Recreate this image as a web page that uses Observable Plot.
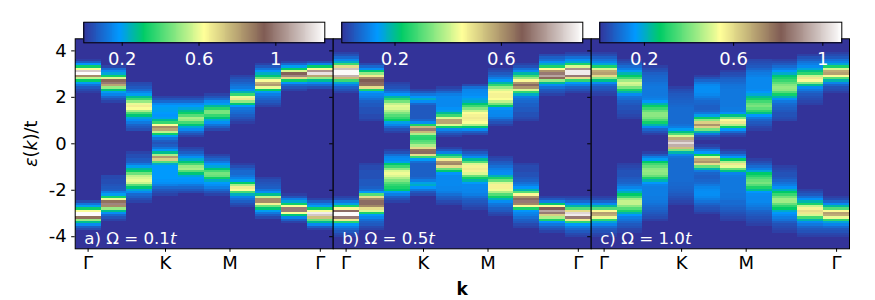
<!DOCTYPE html>
<html>
<head>
<meta charset="utf-8">
<script src="https://cdn.jsdelivr.net/npm/d3@7"></script>
<script src="https://cdn.jsdelivr.net/npm/@observablehq/plot@0.6"></script>
<style>
html,body{margin:0;padding:0;background:#fff}
#chart{position:relative;width:875px;height:300px;overflow:hidden}
#chart svg{position:absolute;left:0;top:0}
</style>
</head>
<body>
<div id="chart"></div>
<script>
// Each column: list of [top energy, intensities going down in steps of 0.1]
const panelA = [
 [[3.6,[.02,.08,.18,.33,.62,1.15,1.25,.85,.55,.32,.2,.12,.07,.04,.02]],[-2.5,[.04,.12,.2,.33,.62,1.25,1.25,.9,.5,.28,.16,.08,.04]]],
 [[3.3,[.03,.1,.16,.22,.33,.58,.92,1.0,.8,.5,.3,.2,.15,.1,.06,.03]],[-1.4,[.04,.04,.05,.05,.06,.07,.08,.14,.2,.34,.6,.9,1.02,.85,.5,.28,.17,.1,.06,.03]]],
 [[2.6,[.04,.05,.07,.1,.15,.2,.28,.38,.5,.6,.66,.62,.52,.4,.3,.22,.17,.13,.09,.07,.05]],[-.4,[.03,.05,.05,.07,.08,.13,.2,.27,.33,.45,.55,.58,.6,.56,.42,.3,.22,.16,.1,.08,.05,.03]]],
 [[2.0,[.03,.06,.1,.16,.19,.2,.2,.19,.18,.2,.28,.38,.62,.85,.8,.55,.33,.2,.12,.08,.06,.08,.12,.18,.28,.52,.82,.72,.42,.23,.19,.19,.19,.19,.19,.19,.18,.17,.14,.1,.07,.05,.03]]],
 [[2.0,[.03,.06,.1,.16,.19,.22,.28,.33,.42,.52,.5,.4,.3,.22,.16,.1,.06,.03]],[-.2,[.03,.05,.08,.12,.17,.23,.3,.4,.5,.52,.42,.3,.22,.19,.18,.17,.13,.1,.07,.04]]],
 [[2.1,[.03,.06,.1,.16,.2,.27,.36,.46,.46,.38,.3,.22,.17,.12,.08,.04]],[-.5,[.03,.06,.09,.13,.18,.22,.3,.4,.46,.44,.33,.24,.19,.17,.14,.1,.06,.03]]],
 [[2.9,[.03,.05,.07,.09,.11,.13,.17,.25,.38,.6,.67,.5,.3,.19,.13,.11,.1,.08,.06,.04,.02]],[-.9,[.02,.05,.08,.1,.1,.12,.15,.2,.32,.52,.66,.62,.4,.24,.15,.11,.08,.05,.03]]],
 [[3.4,[.03,.07,.12,.18,.24,.3,.45,.62,.78,.82,.6,.32,.2,.14,.11,.09,.07,.05,.03]],[-1.5,[.03,.05,.06,.07,.08,.12,.17,.28,.55,.85,.85,.65,.45,.3,.2,.13,.08,.04]]],
 [[3.5,[.03,.1,.2,.32,.58,.95,1.02,.7,.33,.18,.1,.06,.03]],[-2.2,[.02,.06,.14,.22,.33,.62,1.0,1.0,.62,.3,.15,.08,.03]]],
 [[3.5,[.05,.15,.32,.62,1.05,1.2,.8,.5,.28,.16,.1,.05]],[-2.4,[.03,.08,.14,.2,.33,.62,1.22,1.15,.75,.45,.28,.16,.08,.03]]]
];
const panelB = [
 [[3.9,[.02,.04,.07,.11,.17,.28,.5,.82,.9,.9,.8,.55,.28,.16,.1,.06,.04,.02]],[-2.3,[.02,.04,.09,.15,.25,.46,.7,.9,.9,.72,.48,.26,.14,.1,.07,.05,.03,.02]]],
 [[3.4,[.03,.07,.12,.22,.36,.48,.62,.68,.7,.65,.5,.25,.14,.11,.1,.08,.06,.05,.05,.04,.04,.04,.03,.03,.02]],[-.9,[.02,.03,.03,.04,.04,.04,.04,.05,.05,.05,.06,.08,.14,.3,.5,.62,.7,.7,.62,.5,.42,.25,.14,.11,.08,.06,.05,.03,.02]]],
 [[2.6,[.02,.03,.04,.06,.09,.13,.19,.26,.33,.4,.43,.42,.38,.34,.3,.27,.23,.15,.11,.07,.04,.02]],[-.3,[.02,.04,.08,.11,.12,.15,.22,.28,.35,.42,.44,.42,.38,.34,.3,.27,.25,.22,.14,.1,.06,.04,.02]]],
 [[2.3,[.02,.05,.09,.13,.17,.12,.07,.05,.05,.05,.05,.05,.05,.07,.12,.25,.55,.72,.55,.38,.27,.26,.3,.32,.38,.5,.65,.7,.5,.28,.14,.08,.06,.06,.06,.06,.06,.06,.07,.1,.15,.17,.13,.09,.05,.03]]],
 [[2.4,[.02,.04,.07,.1,.115,.115,.115,.115,.115,.125,.15,.2,.28,.42,.58,.58,.42,.24,.11,.07,.04,.02]],[-.2,[.02,.05,.1,.2,.3,.48,.6,.62,.5,.32,.22,.13,.115,.115,.115,.115,.115,.11,.11,.1,.08,.06,.05,.03,.02]]],
 [[2.5,[.03,.08,.11,.115,.12,.13,.15,.17,.22,.28,.34,.4,.45,.47,.48,.47,.45,.38,.22,.12,.06,.03]],[-.3,[.02,.05,.08,.12,.2,.3,.42,.47,.48,.47,.42,.32,.24,.19,.14,.115,.115,.11,.11,.1,.08,.06,.05,.04,.03,.02]]],
 [[3.2,[.02,.03,.05,.07,.1,.13,.19,.27,.36,.42,.46,.47,.47,.45,.4,.33,.22,.13,.115,.115,.11,.09,.06,.04,.02]],[-.6,[.02,.03,.05,.06,.08,.1,.115,.12,.18,.25,.32,.42,.47,.47,.44,.38,.3,.24,.18,.12,.09,.08,.06,.05,.03,.02]]],
 [[3.4,[.02,.04,.08,.12,.19,.28,.36,.46,.6,.7,.6,.42,.27,.17,.1,.08,.07,.06,.06,.05,.05,.04,.04,.03,.02]],[-.9,[.02,.03,.03,.03,.04,.04,.05,.06,.08,.1,.13,.18,.3,.46,.6,.7,.72,.62,.46,.25,.13,.11,.1,.08,.06,.05,.03,.02]]],
 [[3.8,[.03,.06,.08,.12,.17,.25,.45,.6,.72,.78,.66,.36,.2,.12,.08,.05,.04,.02]],[-2.3,[.02,.05,.1,.22,.46,.68,.78,.72,.52,.38,.25,.13,.09,.06,.04,.02]]],
 [[3.9,[.02,.04,.08,.12,.16,.25,.42,.75,.88,.88,.72,.5,.27,.14,.1,.06,.04,.02]],[-2.3,[.02,.04,.07,.12,.19,.3,.5,.85,.88,.72,.48,.27,.14,.1,.07,.05,.03,.02]]]
];
const panelC = [
 [[3.9,[.02,.04,.07,.1,.13,.19,.3,.5,.68,.7,.6,.42,.25,.14,.09,.06,.05,.03,.02]],[-2.3,[.02,.04,.08,.14,.23,.36,.55,.7,.68,.52,.32,.19,.13,.09,.06,.05,.03,.02]]],
 [[3.6,[.02,.04,.06,.09,.12,.17,.22,.27,.34,.44,.5,.48,.4,.3,.22,.14,.1,.09,.07,.06,.05,.05,.04,.04,.03,.02]],[-.9,[.02,.03,.04,.05,.05,.05,.06,.07,.08,.1,.13,.17,.21,.27,.34,.44,.48,.48,.42,.36,.3,.22,.16,.12,.1,.08,.06,.05,.03,.02]]],
 [[3.3,[.02,.04,.05,.07,.08,.085,.09,.1,.105,.11,.11,.11,.11,.115,.125,.16,.22,.28,.33,.38,.42,.42,.4,.35,.29,.22,.14,.08,.05,.02]],[-.4,[.02,.06,.12,.17,.27,.34,.38,.42,.43,.42,.38,.3,.22,.16,.13,.12,.12,.12,.12,.115,.115,.11,.1,.09,.08,.07,.06,.05,.04,.02]]],
 [[2.4,[.02,.04,.05,.06,.065,.07,.075,.08,.085,.09,.09,.09,.09,.09,.09,.09,.1,.12,.17,.25,.36,.5,.68,.95,1.02,.95,.65,.4,.22,.13,.1,.09,.09,.09,.09,.09,.09,.09,.09,.09,.09,.085,.085,.08,.075,.07,.06,.05,.04,.03,.02]]],
 [[2.9,[.02,.05,.08,.11,.135,.145,.145,.145,.135,.12,.1,.085,.08,.07,.07,.08,.11,.18,.28,.42,.62,.72,.62,.4,.22,.11,.05,.02]],[-.1,[.02,.05,.11,.16,.27,.5,.68,.72,.6,.38,.22,.11,.08,.07,.07,.08,.09,.11,.13,.14,.145,.145,.135,.12,.1,.08,.06,.05,.04,.02]]],
 [[3.1,[.02,.04,.05,.07,.08,.09,.1,.105,.11,.11,.11,.11,.11,.11,.11,.11,.115,.12,.15,.25,.4,.55,.58,.46,.28,.16,.09,.04,.02]],[-.3,[.02,.05,.1,.16,.27,.46,.58,.52,.38,.25,.13,.115,.11,.11,.11,.11,.11,.11,.11,.105,.105,.1,.09,.09,.08,.07,.06,.05,.04,.03,.02]]],
 [[3.6,[.03,.04,.05,.06,.08,.1,.115,.125,.135,.135,.135,.135,.135,.14,.16,.19,.24,.29,.34,.38,.4,.37,.32,.25,.16,.11,.08,.06,.05,.03,.02]],[-.7,[.02,.04,.06,.09,.12,.19,.27,.31,.35,.38,.4,.36,.3,.24,.16,.14,.135,.135,.135,.125,.115,.1,.08,.07,.06,.05,.04,.03,.02]]],
 [[3.6,[.02,.04,.06,.09,.12,.16,.2,.26,.3,.33,.37,.41,.43,.42,.36,.29,.22,.15,.11,.09,.08,.07,.06,.05,.05,.04,.03]],[-1,[.02,.03,.04,.05,.05,.06,.08,.1,.12,.15,.21,.27,.33,.39,.44,.44,.38,.32,.27,.2,.16,.14,.12,.1,.07,.05,.04,.03,.02]]],
 [[3.8,[.02,.05,.07,.1,.12,.14,.19,.25,.32,.48,.58,.55,.42,.24,.14,.11,.08,.06,.05,.04,.03,.02]],[-2,[.02,.04,.06,.1,.15,.22,.3,.48,.56,.6,.58,.5,.34,.22,.14,.11,.08,.06,.05,.03,.02]]],
 [[3.9,[.02,.04,.06,.1,.13,.19,.3,.5,.68,.7,.55,.36,.22,.13,.08,.05,.04,.02]],[-2.3,[.02,.04,.08,.14,.23,.36,.55,.7,.68,.52,.32,.19,.13,.09,.06,.05,.03,.02]]]
];
const vmaxes = [1.255, 0.906, 1.085];
const colorbarTicks = [[0.2,0.6,1],[0.2,0.6],[0.2,0.6,1]];
const kTickPositions = [0,3,5.5,9];
const kTickLabels = ["Γ","K","M","Γ"];
const energyTicks = [4,2,0,-2,-4];
const omegas = ["a) Ω = 0.1","b) Ω = 0.5","c) Ω = 1.0"];
const terrainStops = [0,0.15,0.25,0.5,0.75,1];
const terrainColors = ["#333399","#0099ff","#00cc66","#ffff99","#805c54","#ffffff"];

const panels = [panelA,panelB,panelC];
const panelEdges = [[74.7,332.7],[332.7,590.7],[590.7,849]];
const barEdges = [[83.3,324.3],[341.3,582.3],[599.3,841.3]];
const font = "'DejaVu Sans'";
const fs = 16.67;
const tickFs = 18;
const W = 875, H = 300;
const root = document.getElementById("chart");

function colorScale(vmax){
  return {type:"linear",domain:terrainStops.map(s=>s*vmax),range:terrainColors,clamp:true};
}
function cells(panel){
  const out=[];
  panel.forEach((col,c)=>col.forEach(([top,vals])=>vals.forEach((v,i)=>{
    const e=top-i*0.1;
    out.push({c,e,v});
  })));
  return out;
}
function rich(svg,cls,parts){
  const t=svg.querySelector("."+cls+" text");
  if(!t) return;
  t.textContent="";
  parts.forEach(([s,style])=>{
    const ts=document.createElementNS("http://www.w3.org/2000/svg","tspan");
    if(style) ts.setAttribute("font-style",style);
    ts.textContent=s;
    t.appendChild(ts);
  });
}

panels.forEach((panel,p)=>{
  const [l,r]=panelEdges[p];
  const marks=[
    Plot.frame({fill:"#333399"}),
    Plot.rect(cells(panel),{x1:d=>d.c-.5,x2:d=>d.c+.5,y1:d=>d.e-.05,y2:d=>d.e+.05,fill:"v",shapeRendering:"crispEdges"}),
    Plot.frame({stroke:"black",strokeWidth:1}),
    Plot.axisX({anchor:"bottom",ticks:kTickPositions,tickFormat:d=>kTickLabels[kTickPositions.indexOf(d)],tickSize:3.5,tickPadding:4,fontSize:tickFs,label:null}),
    Plot.axisY({anchor:"left",ticks:energyTicks,tickSize:3.5,tickPadding:5,fontSize:tickFs,label:null,tickFormat:p===0?(d=>String(d)):(()=>"")}),
    Plot.text([omegas[p]],{frameAnchor:"bottom-left",dx:9,dy:-5,fill:"white",fontSize:fs,lineAnchor:"bottom",className:"plabel"})
  ];
  if(p===0) marks.push(Plot.text(["ε(k)/t"],{frameAnchor:"left",dx:-44,rotate:-90,fontSize:17.6,className:"ylab",textAnchor:"middle"}));
  if(p===1) marks.push(Plot.text(["k"],{frameAnchor:"bottom",dy:46,fontSize:17,fontWeight:"bold",lineAnchor:"bottom"}));
  const svg=Plot.plot({
    width:W,height:H,marginLeft:l,marginRight:W-r,marginTop:38.3,marginBottom:H-248.3,
    style:{background:"transparent",fontFamily:font,overflow:"visible"},
    x:{domain:[-.5,9.5]},y:{domain:[-4.52,4.52]},color:colorScale(vmaxes[p]),
    marks
  });
  rich(svg,"plabel",[[omegas[p]+"",null],["t","italic"]]);
  rich(svg,"ylab",[["ε","italic"],["(",null],["k","italic"],[")/t",null]]);
  root.appendChild(svg);
});

vmaxes.forEach((vmax,p)=>{
  const [l,r]=barEdges[p];
  const levels=d3.range(256).map(i=>({a:vmax*i/256,b:vmax*(i+1)/256}));
  const svg=Plot.plot({
    width:W,height:H,marginLeft:l,marginRight:W-r,marginTop:21.7,marginBottom:H-42.3,
    style:{background:"transparent",fontFamily:font,overflow:"visible"},
    x:{domain:[0,vmax]},y:{axis:null,domain:[0,1]},color:colorScale(vmax),
    marks:[
      Plot.rect(levels,{x1:"a",x2:"b",y1:0,y2:1,fill:d=>(d.a+d.b)/2,shapeRendering:"crispEdges"}),
      Plot.frame({stroke:"black",strokeWidth:1}),
      Plot.axisX({anchor:"bottom",ticks:colorbarTicks[p],tickSize:3.5,tickFormat:()=>"",label:null,color:"black"}),
      Plot.axisX({anchor:"bottom",ticks:colorbarTicks[p],tickSize:0,tickPadding:9.5,fontSize:tickFs,label:null,color:"white",tickFormat:d=>String(d)})
    ]
  });
  root.appendChild(svg);
});
</script>
</body>
</html>
